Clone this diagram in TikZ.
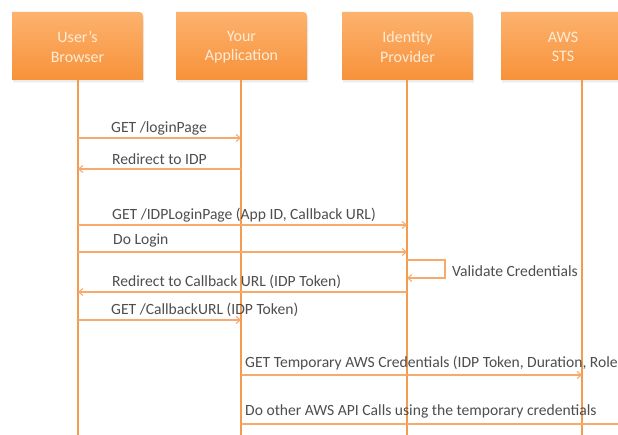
\documentclass[tikz,border=0pt]{standalone}
\usepackage{fontspec}
\setmainfont{Carlito}
\usetikzlibrary{arrows.meta}
\definecolor{boxtop}{RGB}{252,178,110}
\definecolor{boxbot}{RGB}{247,146,58}
\definecolor{lifec}{RGB}{243,156,80}
\definecolor{msgc}{RGB}{246,170,110}
\definecolor{txtc}{RGB}{78,78,78}
\definecolor{hdtxt}{RGB}{255,236,214}
\tikzset{
  hdr/.style={minimum width=131pt, minimum height=68pt, inner sep=0pt, text=hdtxt,
    font=\fontsize{16}{19.5}\selectfont, align=center},
  life/.style={draw=lifec, line width=1.6pt},
  msg/.style={draw=msgc, line width=1.1pt, -{Straight Barb[length=4pt,width=7pt]}},
  lbl/.style={text=txtc, font=\fontsize{15.6}{17}\selectfont, anchor=west, inner sep=0pt},
}
\newcommand{\hdrbox}[5]{% name, x, width, line1, line2
  \fill[black, opacity=0.08] (#2-#3/2+1,14) -- (#2+#3/2-7,14) .. controls (#2+#3/2+1,14) .. (#2+#3/2+1,22) -- (#2+#3/2+1,82.5) -- (#2-#3/2+1,82.5) -- cycle;
  \shade[top color=boxtop, bottom color=boxbot] (#2-#3/2,12) -- (#2+#3/2-8,12) .. controls (#2+#3/2,12) .. (#2+#3/2,20) -- (#2+#3/2,80) -- (#2-#3/2,80) -- cycle;
  \node[hdr, minimum width=#3pt] (#1) at (#2,47) {#4\\#5};
}
\begin{document}
\begin{tikzpicture}[x=1pt,y=-1pt]
\useasboundingbox (0,0) rectangle (618,435);
\clip (0,0) rectangle (618,435);
\fill[white] (0,0) rectangle (618,435);
\hdrbox{ub}{77.5}{131}{User's}{Browser}
\hdrbox{ya}{241.5}{131}{Your}{Application}
\hdrbox{idp}{407.5}{131}{Identity}{Provider}
\hdrbox{sts}{563}{124}{AWS}{STS}
% lifelines
\coordinate (ubt) at (78,80);  \coordinate (ubb) at (78,436);
\coordinate (yat) at (241,80); \coordinate (yab) at (241,436);
\coordinate (idt) at (407,80); \coordinate (idb) at (407,436);
\coordinate (stt) at (582,80); \coordinate (stb) at (582,436);
\draw[life] (ubt) -- (ubb);
\draw[life] (yat) -- (yab);
\draw[life] (idt) -- (idb);
\draw[life] (stt) -- (stb);
% message points
\foreach \n/\y in {1/138,2/169,3/225,4/252,6/292,7/320,8/375,9/424}{
  \coordinate (u\n) at (78,\y);
  \coordinate (a\n) at (241,\y);
  \coordinate (i\n) at (407,\y);
  \coordinate (s\n) at (582,\y);
}
\coordinate (lpa) at (407,260);
\coordinate (lpb) at (445,260);
\coordinate (lpc) at (445,278);
\coordinate (lpd) at (407,278);
\coordinate (far) at (625,424);
\draw[msg] (u1) -- (a1);
\draw[msg] (a2) -- (u2);
\draw[msg] (u3) -- (i3);
\draw[msg] (u4) -- (i4);
\draw[msg] (lpa) -- (lpb) -- (lpc) -- (lpd);
\draw[msg] (i6) -- (u6);
\draw[msg] (u7) -- (a7);
\draw[msg] (a8) -- (s8);
\draw[msg] (a9) -- (far);
% labels
\node[lbl] (l1) at (111,128) {GET /loginPage};
\node[lbl] (l2) at (112,159) {Redirect to IDP};
\node[lbl] (l3) at (112,215) {GET /IDPLoginPage (App ID, Callback URL)};
\node[lbl] (l4) at (113,240) {Do Login};
\node[lbl] (l5) at (452,271) {Validate Credentials};
\node[lbl] (l6) at (112,282) {Redirect to Callback URL (IDP Token)};
\node[lbl] (l7) at (111,310) {GET /CallbackURL (IDP Token)};
\node[lbl] (l8) at (245,363) {GET Temporary AWS Credentials (IDP Token, Duration, Role)};
\node[lbl] (l9) at (245,411) {Do other AWS API Calls using the temporary credentials};
\end{tikzpicture}
\end{document}
